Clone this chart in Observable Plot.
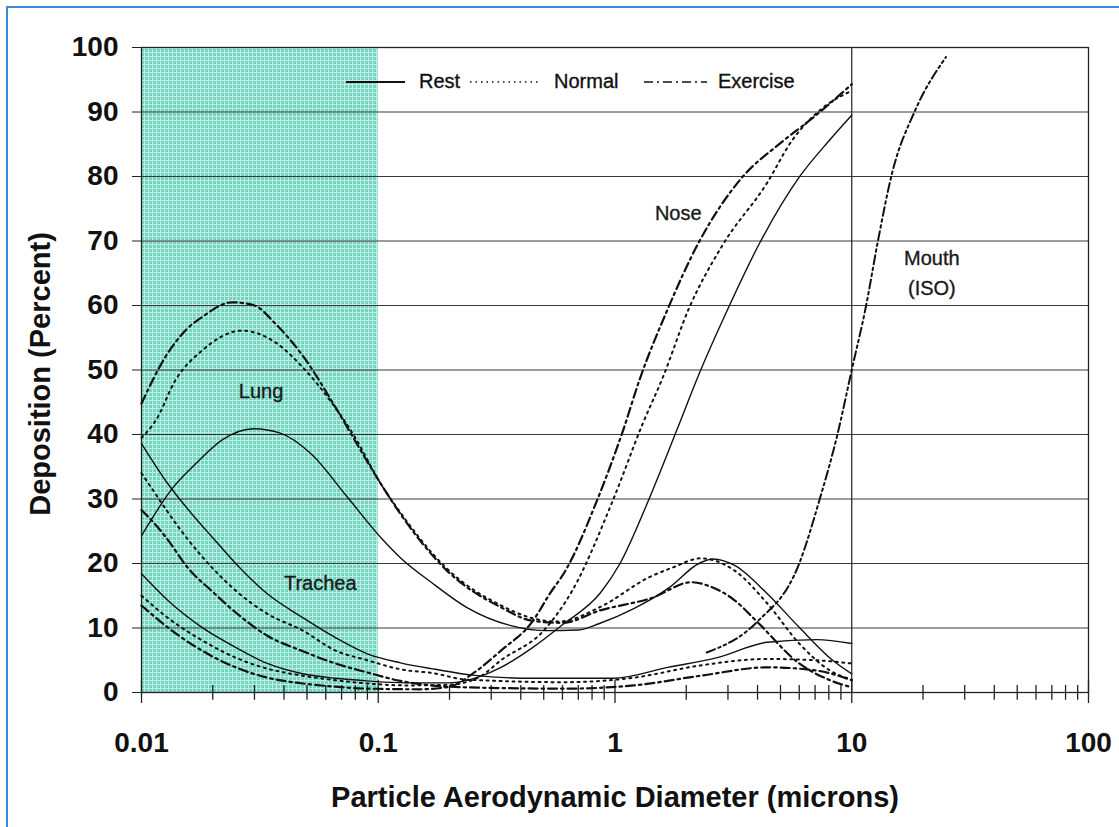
<!DOCTYPE html>
<html>
<head>
<meta charset="utf-8">
<script src="https://cdn.jsdelivr.net/npm/d3@7"></script>
<script src="https://cdn.jsdelivr.net/npm/@observablehq/plot@0.6"></script>
<style>
  html, body { margin: 0; padding: 0; background: #fff; }
  #wrap { position: relative; width: 1119px; height: 827px; overflow: hidden; font-family: "Liberation Sans", Arial, sans-serif; }
  #frameTop { position: absolute; left: 6px; top: 6px; width: 1113px; height: 2px; background: #3a8ad6; }
  #frameLeft { position: absolute; left: 6px; top: 6px; width: 2px; height: 821px; background: #3a8ad6; }
  .lg { position: absolute; top: 70px; font-size: 20px; line-height: 22px; color: #111; white-space: nowrap; -webkit-text-stroke: 0.35px #111; }
  .lgline { position: absolute; top: 74px; }
</style>
</head>
<body>
<div id="wrap">
  <div id="chart"></div>
  <div id="frameTop"></div>
  <div id="frameLeft"></div>
  <div id="legend"></div>
</div>
<script>
// ---------- data (particle diameter in microns, deposition in percent) ----------
const xMajorTicks = [0.01, 0.1, 1, 10, 100];
const xTickLabels = ["0.01", "0.1", "1", "10", "100"];
const xMinorTicks = [0.02, 0.03, 0.04, 0.05, 0.06, 0.07, 0.08, 0.09,
                     0.2, 0.3, 0.4, 0.5, 0.6, 0.7, 0.8, 0.9,
                     2, 3, 4, 5, 6, 7, 8, 9,
                     20, 30, 40, 50, 60, 70, 80, 90];
const yTicks = [0, 10, 20, 30, 40, 50, 60, 70, 80, 90, 100];
const gridValues = [10, 20, 30, 40, 50, 60, 70, 80, 90];
const shadedRange = [0.01, 0.1];
const breathingPatterns = ["Rest", "Normal", "Exercise"];

const lungRest = [[0.01,24.3],[0.0136,31.8],[0.0172,35.7],[0.022,39.2],[0.0297,40.9],[0.0386,40.2],[0.052,37],[0.074,30.3],[0.105,23.6],[0.124,20.9],[0.17,16.9],[0.236,13.2],[0.36,10.4],[0.5,9.6],[0.7,9.7],[0.86,10.7],[1.2,13],[1.7,16.3],[2.26,20],[2.6,20.7],[3.2,19.7],[4.4,15.3],[6,10.1],[8.3,5],[10,2.9]];
const lungNormal = [[0.01,39.5],[0.0115,42.2],[0.0139,48.4],[0.018,53],[0.0266,56.1],[0.0367,54.3],[0.048,50.4],[0.064,44.8],[0.08,39.5],[0.1,33],[0.124,27.9],[0.195,19.2],[0.33,13.5],[0.45,11.5],[0.58,11],[0.86,13.2],[1.4,17.9],[1.76,19.4],[2.3,20.8],[3.2,18.9],[4.4,13.8],[6,7.6],[8.1,3.4],[10,2]];
const lungExercise = [[0.01,44.8],[0.0126,52],[0.0153,56.1],[0.018,58.2],[0.0242,60.5],[0.03,60],[0.0367,57.2],[0.048,52.2],[0.066,44.2],[0.086,37],[0.1,33],[0.124,27.7],[0.195,18.9],[0.33,13.2],[0.45,11.1],[0.6,10.8],[0.86,12.7],[1.44,14.7],[2.1,17.1],[2.5,16.5],[3.2,14.3],[4,10.9],[6,4.5],[8.1,1.9],[10,0.8]];

const tracheaRest = [[0.01,38.6],[0.0129,32.4],[0.0172,26.7],[0.02,24],[0.025,20],[0.034,15.3],[0.048,11.6],[0.066,8.5],[0.09,6],[0.124,4.6],[0.174,3.6],[0.25,2.7],[0.45,2.2],[0.98,2.2],[1.67,3.9],[2.7,5.4],[4.4,7.8],[7.1,8.2],[10,7.6]];
const tracheaNormal = [[0.01,34],[0.0107,32.4],[0.0158,23.6],[0.025,15.8],[0.034,12.2],[0.048,9.6],[0.066,6.5],[0.09,5],[0.124,3.6],[0.17,3],[0.236,2],[0.62,1.6],[1.2,2.3],[2.3,4.2],[4.4,5.2],[7.1,5],[10,4.5]];
const tracheaExercise = [[0.01,28.3],[0.0107,27.2],[0.0126,24.2],[0.0158,19.2],[0.02,15.6],[0.025,12.4],[0.034,8.8],[0.048,6.4],[0.066,4.5],[0.09,3.1],[0.124,1.8],[0.236,0.8],[0.62,0.6],[1.2,1.1],[2.3,2.6],[4.4,3.9],[7.1,3.4],[10,1.9]];

const noseRest = [[0.01,18.4],[0.0129,14.3],[0.018,10.1],[0.025,7],[0.034,4.5],[0.048,2.9],[0.066,2.2],[0.09,1.8],[0.13,1.5],[0.2,1.5],[0.27,2.5],[0.33,3.9],[0.45,7],[0.6,10.5],[0.87,15.5],[1.05,20],[1.4,30.2],[1.83,40.8],[2.26,49.3],[3,59.5],[4.1,69.8],[6,79.9],[8,85.5],[10,89.5]];
const noseNormal = [[0.01,15],[0.0129,11.6],[0.018,8.1],[0.025,5.4],[0.034,3.7],[0.048,2.6],[0.066,1.9],[0.09,1.4],[0.13,1.1],[0.2,1.2],[0.27,2.5],[0.33,5],[0.5,9.6],[0.66,15.8],[0.98,29.8],[1.31,41.7],[1.59,48.8],[2.05,59.5],[2.84,69.3],[4.37,78.9],[5.6,85.6],[7.3,90.2],[10,93.3]];
const noseExercise = [[0.01,13.5],[0.0129,10.1],[0.018,6.5],[0.025,3.9],[0.034,2.3],[0.048,1.4],[0.066,0.9],[0.09,0.6],[0.15,0.5],[0.2,0.9],[0.25,2.9],[0.33,6.5],[0.45,11.1],[0.53,15.3],[0.62,19],[0.84,29.8],[1.09,41],[1.27,48.5],[1.65,59],[2.26,69.8],[3.45,79.9],[4.97,85.1],[6.8,89],[10,94.3]];

const mouthISO = [[2.44,6.2],[3.97,10.9],[6,20],[7.3,29.8],[8.7,40],[10,50],[11.5,60],[12.9,70],[14.8,80.5],[18.5,90.2],[25,98.5]];

const regionLabels = ["Lung", "Trachea", "Nose", "Mouth", "(ISO)"];
const regionLabelX = [0.032, 0.0569, 1.85, 21.8, 21.8];
const regionLabelY = [46.7, 16.9, 74.3, 67.3, 62.6];

// ---------- styles ----------
const lineStyle = {
  Rest:     {strokeWidth: 1.4, strokeDasharray: null},
  Normal:   {strokeWidth: 2.0, strokeDasharray: "2,4.5"},
  Exercise: {strokeWidth: 2.2, strokeDasharray: "9,4,2.5,4"},
  ISO:      {strokeWidth: 2.0, strokeDasharray: "9,3.5,2.5,3.5,2.5,3.5"}
};

const series = [
  {values: lungRest, pattern: "Rest"}, {values: lungNormal, pattern: "Normal"}, {values: lungExercise, pattern: "Exercise"},
  {values: tracheaRest, pattern: "Rest"}, {values: tracheaNormal, pattern: "Normal"}, {values: tracheaExercise, pattern: "Exercise"},
  {values: noseRest, pattern: "Rest"}, {values: noseNormal, pattern: "Normal"}, {values: noseExercise, pattern: "Exercise"},
  {values: mouthISO, pattern: "ISO"}
];

const labels = regionLabels.map((t, i) => ({t, x: regionLabelX[i], y: regionLabelY[i]}));

const chart = Plot.plot({
  width: 1119,
  height: 827,
  marginLeft: 141,
  marginRight: 31,
  marginTop: 47,
  marginBottom: 135,
  style: {background: "transparent", fontFamily: "'Liberation Sans', Arial, sans-serif", color: "#111", overflow: "visible"},
  x: {type: "log", domain: [0.01, 100]},
  y: {domain: [0, 100]},
  marks: [
    Plot.rect([shadedRange], {x1: d => d[0], x2: d => d[1], y1: 0, y2: 100, fill: "#72d5c2"}),
    Plot.rect([shadedRange], {x1: d => d[0], x2: d => d[1], y1: 0, y2: 100, fill: "url(#tealgrid)"}),
    Plot.ruleY(gridValues, {stroke: "#3a3a3a", strokeWidth: 1}),
    Plot.ruleX(xMinorTicks, {y1: -1.2, y2: 1.1, stroke: "#222", strokeWidth: 1.3}),
    Plot.ruleX(xMajorTicks, {y1: -1.7, y2: 1.9, stroke: "#222", strokeWidth: 1.3}),
    Plot.ruleX([10], {y1: 0, y2: 100, stroke: "#222", strokeWidth: 1.2}),
    Plot.frame({stroke: "#222", strokeWidth: 1.3}),
    Plot.axisY({ticks: yTicks, tickSize: 9, tickPadding: 14, tickFormat: d => String(d), fontSize: 28, fontWeight: "bold", label: null, stroke: "#222"}),
    Plot.axisX({ticks: xMajorTicks, tickSize: 0, tickPadding: 40, tickFormat: d => xTickLabels[xMajorTicks.indexOf(d)], fontSize: 28, fontWeight: "bold", label: null}),
    ...series.map(s => Plot.line(s.values, {
      x: d => d[0], y: d => d[1], stroke: "#111", curve: "monotone-x",
      strokeWidth: lineStyle[s.pattern].strokeWidth,
      strokeDasharray: lineStyle[s.pattern].strokeDasharray
    })),
    Plot.text(labels, {x: "x", y: "y", text: "t", fontSize: 20, fill: "#1a1a1a", stroke: "#1a1a1a", strokeWidth: 0.35, letterSpacing: 0.5}),
    Plot.text(["Particle Aerodynamic Diameter (microns)"], {frameAnchor: "bottom", lineAnchor: "middle", dy: 105, fontSize: 29, fontWeight: "bold", fill: "#111", letterSpacing: 1}),
    Plot.text(["Deposition (Percent)"], {frameAnchor: "left", textAnchor: "middle", lineAnchor: "middle", dx: -101, dy: 4, rotate: -90, fontSize: 29, fontWeight: "bold", fill: "#111", letterSpacing: 3.5})
  ]
});

// light grid texture over the shaded ultrafine range
const svg = d3.select(chart);
const pat = svg.insert("defs", ":first-child").append("pattern")
  .attr("id", "tealgrid").attr("patternUnits", "userSpaceOnUse")
  .attr("width", 4).attr("height", 4);
pat.append("rect").attr("x", 0).attr("y", 0).attr("width", 4).attr("height", 1).attr("fill", "#ffffff").attr("fill-opacity", 0.55);
pat.append("rect").attr("x", 0).attr("y", 1).attr("width", 1).attr("height", 3).attr("fill", "#ffffff").attr("fill-opacity", 0.55);

document.getElementById("chart").appendChild(chart);

// legend (inside plot area, top)
const legendItems = [
  {name: breathingPatterns[0], lineX: 346, lineW: 59, textX: 419, dash: null, w: 1.8},
  {name: breathingPatterns[1], lineX: 470, lineW: 70, textX: 554, dash: "1.5,4", w: 1.6},
  {name: breathingPatterns[2], lineX: 644, lineW: 63, textX: 718, dash: "9,4,2,4", w: 1.6}
];
const lg = document.getElementById("legend");
legendItems.forEach(it => {
  const s = d3.create("svg").attr("class", "lgline")
    .attr("width", it.lineW).attr("height", 16)
    .style("left", it.lineX + "px");
  s.append("line").attr("x1", 0).attr("x2", it.lineW).attr("y1", 8).attr("y2", 8)
    .attr("stroke", "#111").attr("stroke-width", it.w)
    .attr("stroke-dasharray", it.dash);
  lg.appendChild(s.node());
  const t = document.createElement("span");
  t.className = "lg";
  t.style.left = it.textX + "px";
  t.textContent = it.name;
  lg.appendChild(t);
});
</script>
</body>
</html>
